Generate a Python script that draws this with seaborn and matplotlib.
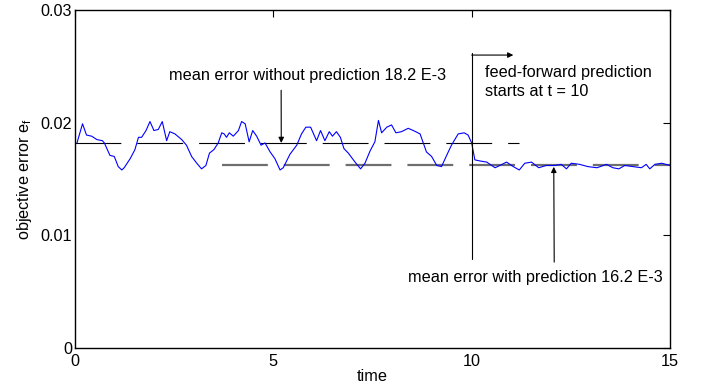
import matplotlib
matplotlib.use("Agg")
import matplotlib.pyplot as plt
import seaborn as sns
import pandas as pd

# ---- data ----
time = [0.05, 0.19, 0.29, 0.42, 0.55, 0.69, 0.74, 0.88, 0.99, 1.09, 1.18, 1.24, 1.39, 1.51,
        1.60, 1.68, 1.79, 1.89, 1.99, 2.10, 2.20, 2.31, 2.39, 2.52, 2.69, 2.81, 2.94, 3.07,
        3.19, 3.30, 3.39, 3.50, 3.61, 3.70, 3.76, 3.82, 3.89, 3.99, 4.12, 4.20, 4.29, 4.39,
        4.48, 4.58, 4.69, 4.79, 4.92, 5.04, 5.17, 5.25, 5.42, 5.59, 5.71, 5.82, 5.94, 6.09,
        6.19, 6.30, 6.41, 6.49, 6.59, 6.69, 6.78, 6.89, 7.06, 7.20, 7.31, 7.44, 7.56, 7.65,
        7.73, 7.86, 7.98, 8.09, 8.23, 8.40, 8.53, 8.70, 8.86, 8.99, 9.12, 9.24, 9.37, 9.49,
        9.66, 9.81, 9.91, 10.00, 10.08, 10.21, 10.38, 10.59, 10.71, 10.88, 11.05, 11.20,
        11.34, 11.51, 11.69, 11.88, 12.09, 12.26, 12.39, 12.51, 12.72, 12.93, 13.16, 13.40,
        13.56, 13.71, 13.86, 14.07, 14.28, 14.40, 14.49, 14.62, 14.79, 15.00]
error = [0.0182, 0.0199, 0.0189, 0.0188, 0.0185, 0.0184, 0.0182, 0.0171, 0.0170, 0.0161,
         0.0158, 0.0160, 0.0168, 0.0176, 0.0187, 0.0187, 0.0193, 0.0201, 0.0193, 0.0194,
         0.0201, 0.0184, 0.0192, 0.0190, 0.0185, 0.0180, 0.0170, 0.0164, 0.0159, 0.0162,
         0.0173, 0.0176, 0.0182, 0.0191, 0.0190, 0.0187, 0.0191, 0.0188, 0.0193, 0.0201,
         0.0199, 0.0183, 0.0193, 0.0188, 0.0180, 0.0182, 0.0174, 0.0168, 0.0158, 0.0160,
         0.0172, 0.0180, 0.0190, 0.0196, 0.0196, 0.0184, 0.0193, 0.0184, 0.0192, 0.0188,
         0.0192, 0.0187, 0.0177, 0.0173, 0.0165, 0.0159, 0.0164, 0.0175, 0.0183, 0.0202,
         0.0191, 0.0196, 0.0198, 0.0191, 0.0192, 0.0195, 0.0193, 0.0190, 0.0174, 0.0170,
         0.0162, 0.0161, 0.0171, 0.0180, 0.0190, 0.0191, 0.0189, 0.0182, 0.0167, 0.0166,
         0.0165, 0.0160, 0.0162, 0.0165, 0.0161, 0.0158, 0.0164, 0.0165, 0.0160, 0.0162,
         0.0162, 0.0163, 0.0159, 0.0164, 0.0163, 0.0161, 0.0160, 0.0163, 0.0160, 0.0159,
         0.0162, 0.0161, 0.0160, 0.0163, 0.0159, 0.0163, 0.0164, 0.0162]

mean_without = 0.0182
mean_without_span = [0.0, 11.2]
mean_with = 0.0162
mean_with_span = [3.7, 15.0]
t_start = 10

xticks = [0, 5, 10, 15]
yticks = [0, 0.01, 0.02, 0.03]
yticklabels = ["0", "0.01", "0.02", "0.03"]

# ---- style ----
sns.set_theme(style="white")
plt.rcParams["font.family"] = ["Liberation Sans", "DejaVu Sans"]
plt.rcParams["mathtext.default"] = "regular"
plt.rcParams["lines.scale_dashes"] = False
FS = 11.7

fig = plt.figure(figsize=(7.03, 3.85), dpi=100)
ax = fig.add_axes([75 / 703, 1 - 348 / 385, (670 - 75) / 703, (348 - 10) / 385])

df = pd.DataFrame({"time": time, "error": error})

sns.lineplot(x=mean_without_span, y=[mean_without] * 2, ax=ax, color="black",
             lw=0.8, dashes=False).lines[-1].set_dashes((33, 11.5))
sns.lineplot(x=mean_with_span, y=[mean_with] * 2, ax=ax, color="#6e6e6e",
             lw=1.6, dashes=False).lines[-1].set_dashes((33, 11.5))
sns.lineplot(data=df, x="time", y="error", ax=ax, color="blue", lw=0.8)

ax.set_xlim(0, 15)
ax.set_ylim(0, 0.03)
ax.set_xticks(xticks)
ax.set_xticklabels([str(x) for x in xticks])
ax.set_yticks(yticks)
ax.set_yticklabels(yticklabels)
ax.tick_params(direction="in", top=True, right=True, length=5, width=0.8,
               labelsize=FS, colors="black", pad=4)
ax.tick_params(axis="y", pad=2)
for s in ax.spines.values():
    s.set_color("black")
    s.set_linewidth(1.0)
ax.set_xlabel("time", fontsize=FS, labelpad=0, color="black")
ax.set_ylabel("objective error e$_f$", fontsize=FS, labelpad=5, color="black")

# vertical marker at t = 10 and arrow
ax.plot([t_start, t_start], [0.0079, 0.0262], color="black", lw=0.8)
ax.annotate("", xy=(11.05, 0.0260), xytext=(t_start, 0.0260),
            arrowprops=dict(arrowstyle="-|>", color="black", lw=0.8, mutation_scale=8,
                            shrinkA=0, shrinkB=0))
ax.text(10.33, 0.0236, "feed-forward prediction\nstarts at t = 10", fontsize=FS,
        ha="left", va="center", linespacing=1.35, color="black")

# annotations
ax.annotate("mean error without prediction 18.2 E-3", xy=(5.2, mean_without),
            xytext=(5.86, 0.0242), fontsize=FS, ha="center", va="center", color="black",
            arrowprops=dict(arrowstyle="-|>", color="black", lw=0.8, mutation_scale=8,
                            shrinkA=3, shrinkB=0, relpos=(0.405, 0.0)))
ax.annotate("mean error with prediction 16.2 E-3", xy=(12.07, 0.01608),
            xytext=(11.6, 0.0063), fontsize=FS, ha="center", va="center", color="black",
            arrowprops=dict(arrowstyle="-|>", color="black", lw=0.8, mutation_scale=8,
                            shrinkA=3, shrinkB=0, relpos=(0.575, 1.0)))

fig.savefig("out.png", dpi=100)
